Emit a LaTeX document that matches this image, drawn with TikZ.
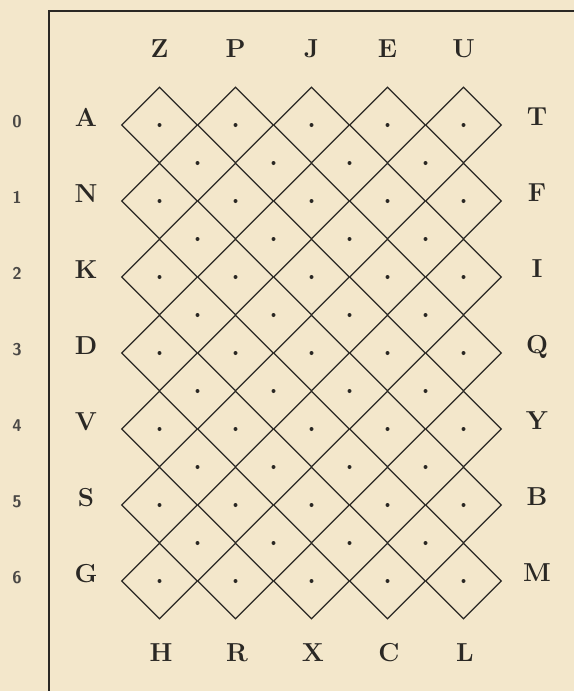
\documentclass[tikz,border=0pt]{standalone}
\usetikzlibrary{shapes.geometric}

\definecolor{paper}{RGB}{243,231,203}
\definecolor{ink}{RGB}{42,40,36}

\begin{document}
\begin{tikzpicture}[
  x=1pt, y=-1pt,
  cell/.style={diamond, aspect=1, draw=ink, line width=1.3pt, inner sep=0pt,
               minimum width=76pt, minimum height=76pt},
  dot/.style={circle, fill=ink, inner sep=0pt, minimum size=4pt},
  letter/.style={anchor=base, text=ink, font=\fontsize{26}{26}\selectfont\bfseries},
  num/.style={anchor=base, text=ink!85, font=\sffamily\bfseries\fontsize{17}{17}\selectfont},
]

% ---- Paper and frame ----
\fill[paper] (0,0) rectangle (574,691);
\useasboundingbox (0,0) rectangle (574,691);
\draw[ink, line width=1.4pt] (49,691) -- (49,11) -- (574,11);

% ---- Diamond lattice: 5 columns x 7 rows ----
\foreach \i in {0,...,4}
  \foreach \j in {0,...,6}
    \node[cell] (c\i\j) at (159.5+76*\i, 125+76*\j) {};

% ---- Dots: cell centres and the cells between them ----
\foreach \i in {0,...,4}
  \foreach \j in {0,...,6}
    \node[dot] (p\i\j) at (c\i\j) {};
\foreach \i in {0,...,3}
  \foreach \j in {0,...,5}
    \node[dot] (q\i\j) at (197.5+76*\i, 163+76*\j) {};

% ---- Letters round the lattice ----
\foreach \c [count=\k from 0] in {Z,P,J,E,U}
  \node[letter] (t\c) at (159.5+76*\k, 57) {\c};
\foreach \c [count=\k from 0] in {H,R,X,C,L}
  \node[letter] (b\c) at (161+76*\k, 661) {\c};
\foreach \c [count=\k from 0] in {A,N,K,D,V,S,G}
  \node[letter] (l\c) at (86, 126+76*\k) {\c};
\foreach \c [count=\k from 0] in {T,F,I,Q,Y,B,M}
  \node[letter] (r\c) at (537, 125+76*\k) {\c};

% ---- Row numbers ----
\foreach \k in {0,...,6}
  \node[num] (n\k) at (17, 127+76*\k) {\k};

\end{tikzpicture}
\end{document}
